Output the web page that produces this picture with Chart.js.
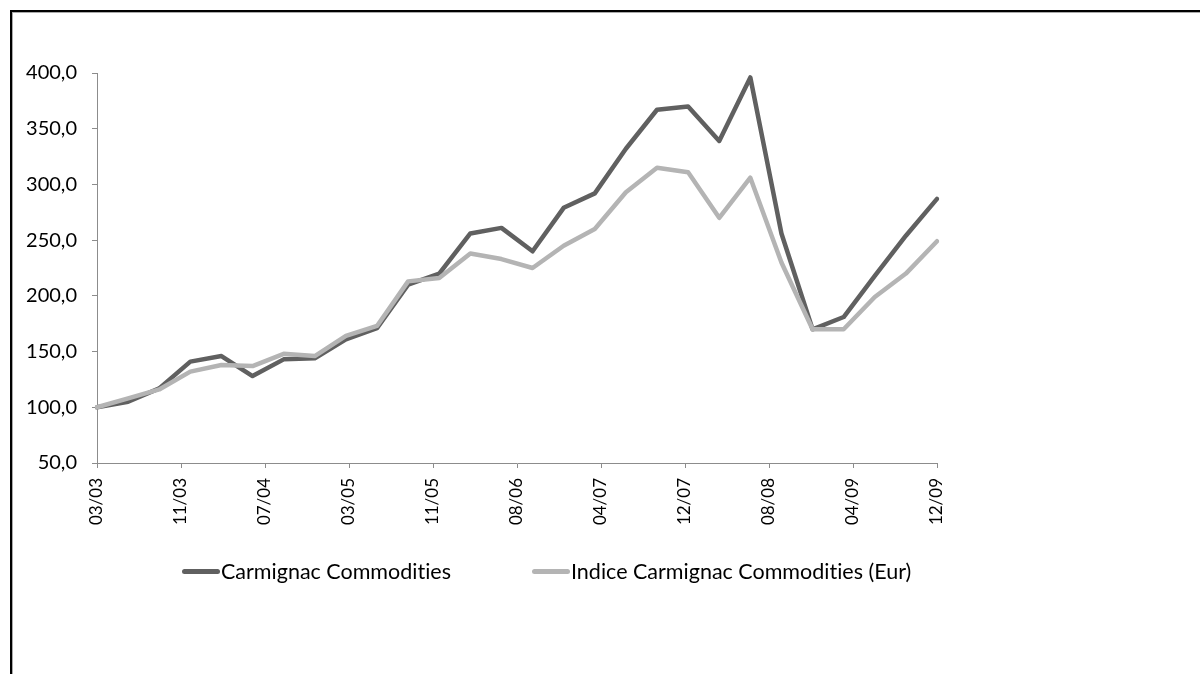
<!DOCTYPE html>
<html>
<head>
<meta charset="utf-8">
<script src="https://cdn.jsdelivr.net/npm/chart.js@4/dist/chart.umd.min.js"></script>
<style>
  body { margin: 0; background: #fff; }
  .wrap { position: relative; width: 1200px; height: 674px; overflow: hidden; }
  .frame { position: absolute; left: 10px; top: 10px; width: 1300px; height: 800px;
           border: 2px solid #000; box-shadow: inset 1px 1px 0 #aaa; }
  canvas { position: absolute; left: 0; top: 0; }
  .legend { position: absolute; left: 182px; top: 558px; display: flex;
            font-family: Lato, "Open Sans", sans-serif; font-size: 21.5px; color: #000;
            font-variant-ligatures: none; }
  .legend-item { width: 350px; flex-shrink: 0; display: flex; align-items: center; white-space: nowrap; }
  .legend-swatch { width: 38px; height: 5px; flex-shrink: 0; border-radius: 3px; margin-right: 1px; }
</style>
</head>
<body>
<div class="wrap">
  <div class="frame"></div>
  <canvas id="myChart" width="1200" height="674"></canvas>
  <div class="legend" id="legend"></div>
</div>
<script>
// trimestres 03/03 -> 12/09
const Quarters = ["03/03", "06/03", "09/03", "12/03", "03/04", "06/04", "09/04", "12/04",
  "03/05", "06/05", "09/05", "12/05", "03/06", "06/06", "09/06", "12/06",
  "03/07", "06/07", "09/07", "12/07", "03/08", "06/08", "09/08", "12/08",
  "03/09", "06/09", "09/09", "12/09"];

// etiquettes de l'axe (toutes les 8 mois)
const tickLabels = ["03/03", "11/03", "07/04", "03/05", "11/05", "08/06", "04/07", "12/07", "08/08", "04/09", "12/09"];

const fundValues = [100, 105, 117, 141, 146, 128, 143, 144, 161, 171, 210, 220, 256, 261,
  240, 279, 292, 332, 367, 370, 339, 396, 256, 170, 181, 218, 254, 287];
const indexValues = [100, 108, 116, 132, 138, 137, 148, 146, 164, 173, 213, 216, 238, 233,
  225, 245, 260, 293, 315, 311, 270, 306, 230, 170, 170, 199, 220, 249];

const axisGrey = "#8c8c8c";
const fontFamily = "Lato, 'Open Sans', sans-serif";

const lineData = {
  labels: Quarters,
  datasets: [
    {
      label: "Carmignac Commodities",
      data: fundValues,
      borderColor: "#606060",
      backgroundColor: "#606060",
      borderWidth: 4.5,
      pointRadius: 0,
      tension: 0,
      borderJoinStyle: "round",
      borderCapStyle: "round",
      order: 1,
    },
    {
      label: "Indice Carmignac Commodities (Eur)",
      data: indexValues,
      borderColor: "#b4b4b4",
      backgroundColor: "#b4b4b4",
      borderWidth: 4.5,
      pointRadius: 0,
      tension: 0,
      borderJoinStyle: "round",
      borderCapStyle: "round",
      order: 0,
    },
  ],
};

const config = {
  type: "line",
  data: lineData,
  options: {
    responsive: false,
    animation: false,
    layout: { padding: { left: 0, right: 263, top: 73, bottom: 141 } },
    plugins: {
      legend: { display: false },
      tooltip: { enabled: false },
    },
    scales: {
      x: {
        type: "category",
        display: false,
        offset: false,
      },
      xLabels: {
        type: "linear",
        position: "bottom",
        min: 0,
        max: tickLabels.length - 1,
        afterFit: (scale) => { scale.height = 70; },
        border: { color: axisGrey, width: 1 },
        grid: { display: true, drawOnChartArea: false, drawTicks: true, tickLength: 5, color: axisGrey },
        ticks: {
          stepSize: 1,
          autoSkip: false,
          minRotation: 90,
          maxRotation: 90,
          padding: 10,
          color: "#000",
          font: { family: fontFamily, size: 17 },
          callback: (v) => tickLabels[v],
        },
      },
      y: {
        min: 50,
        max: 400,
        afterFit: (scale) => { scale.width = 97; },
        border: { color: axisGrey, width: 1 },
        grid: { display: true, drawOnChartArea: false, drawTicks: true, tickLength: 5, color: axisGrey },
        ticks: {
          stepSize: 50,
          color: "#000",
          padding: 15,
          font: { family: fontFamily, size: 20 },
          callback: (v) => v.toFixed(1).replace(".", ","),
        },
      },
    },
  },
};

const myChart = new Chart(document.querySelector("#myChart"), config);

// légende HTML construite depuis les datasets
const legendBox = document.getElementById("legend");
myChart.data.datasets.forEach((ds) => {
  const item = document.createElement("div");
  item.classList.add("legend-item");
  const swatch = document.createElement("span");
  swatch.classList.add("legend-swatch");
  swatch.style.background = ds.borderColor;
  const text = document.createElement("span");
  text.innerText = ds.label;
  item.appendChild(swatch);
  item.appendChild(text);
  legendBox.appendChild(item);
});
</script>
</body>
</html>
